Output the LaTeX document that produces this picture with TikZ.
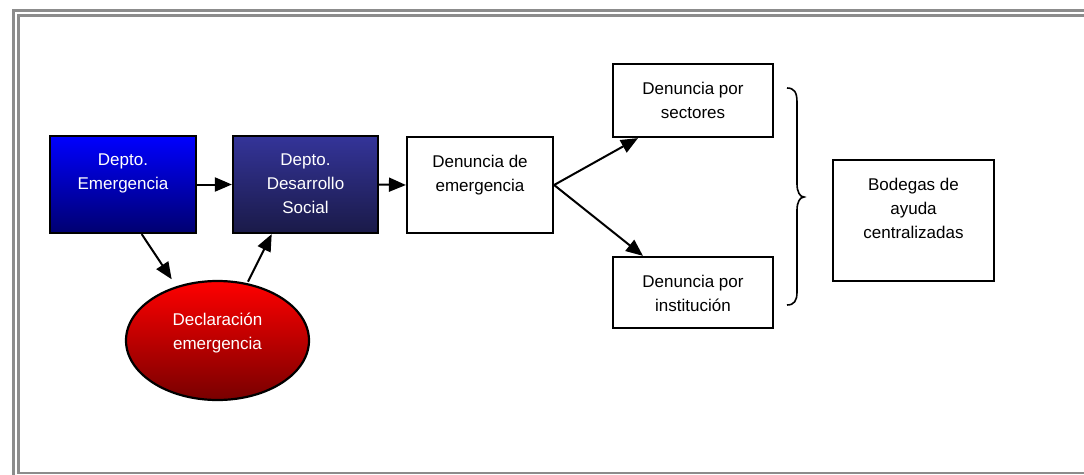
\documentclass[tikz,border=0pt]{standalone}
\usepackage{fontspec}
\setmainfont{Liberation Sans}
\usetikzlibrary{arrows.meta,shapes.geometric,calc}
\definecolor{frameg}{HTML}{8C8C8C}
\definecolor{blueA}{HTML}{0000FF}
\definecolor{blueB}{HTML}{000070}
\definecolor{navyA}{HTML}{343499}
\definecolor{navyB}{HTML}{1A1A48}
\definecolor{redA}{HTML}{FF0000}
\definecolor{redB}{HTML}{780000}
\tikzset{
  box/.style={draw=black, line width=2.2pt, rectangle, inner sep=0pt},
  lbl/.style={align=center, inner sep=0pt, anchor=north, font=\fontsize{17}{24}\selectfont},
  arr/.style={line width=2pt, -{Triangle[length=17pt,width=14pt]}},
  frameline/.style={draw=frameg, line width=2.5pt},
  bracepath/.style={line width=1.6pt}
}
\begin{document}
\begin{tikzpicture}[x=1pt,y=-1pt]
\useasboundingbox (0,0) rectangle (1084,474);
% frame
\draw[frameline] (13.5,480) |- (1090,10.3);
\draw[frameline] (1090,472.8) -| (18.5,15.3) -- (1090,15.3);
% boxes
\node[box, top color=blueA, bottom color=blueB, minimum width=146pt, minimum height=97pt] (emer) at (123,184.5) {};
\node[box, top color=navyA, bottom color=navyB, minimum width=145pt, minimum height=97pt] (des) at (305.5,184.5) {};
\node[box, minimum width=146pt, minimum height=96pt] (dde) at (480,185) {};
\node[box, minimum width=160pt, minimum height=73pt] (sect) at (693,100.5) {};
\node[box, minimum width=160pt, minimum height=71pt] (inst) at (693,292.5) {};
\node[box, minimum width=161pt, minimum height=121pt] (bod) at (913.5,220.5) {};
\node[ellipse, draw=black, line width=2.2pt, top color=redA, bottom color=redB, minimum width=183pt, minimum height=119pt, inner sep=0pt] (decl) at (217.5,340.5) {};
% labels
\node[lbl, text=white] (temer) at ($(emer.north)+(0,19)$) {Depto.\\Emergencia};
\node[lbl, text=white] (tdes) at ($(des.north)+(0,19)$) {Depto.\\Desarrollo\\Social};
\node[lbl] (tdde) at ($(dde.north)+(0,19)$) {Denuncia de\\emergencia};
\node[lbl] (tsect) at ($(sect.north)+(0,19)$) {Denuncia por\\sectores};
\node[lbl] (tinst) at ($(inst.north)+(0,19)$) {Denuncia por\\institución};
\node[lbl] (tbod) at ($(bod.north)+(0,19)$) {Bodegas de\\ayuda\\centralizadas};
\node[lbl, anchor=center, text=white] (tdecl) at ($(decl.center)+(0,-8)$) {Declaración\\emergencia};
% connectors
\draw[arr] (emer) -- (des);
\draw[arr] (des.east) -- (dde.west);
\draw[arr] ($(emer.south)+(18.7,0)$) -- ($(decl.center)+(-45.8,-61.2)$);
\draw[arr] ($(decl.center)+(30.5,-58.8)$) -- ($(des.south)+(-33.8,0)$);
\draw[arr] (dde.east) -- ($(sect.south)+(-55,0)$);
\draw[arr] (dde.east) -- ($(inst.north)+(-50,0)$);
% brace
\draw[bracepath] (787,88) .. controls (794,88) and (797,92) .. (797,102) -- (797,184)
  .. controls (797,192) and (800,197) .. (804,197)
  .. controls (800,197) and (797,202) .. (797,210) -- (797,292)
  .. controls (797,301) and (794,305) .. (787,305);
\end{tikzpicture}
\end{document}
